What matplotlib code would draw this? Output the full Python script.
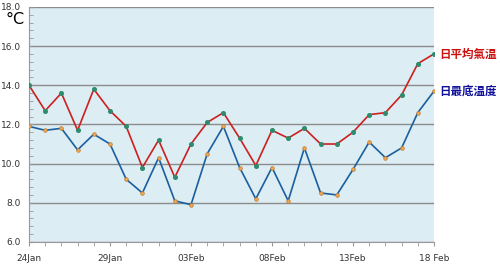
import matplotlib
matplotlib.use("Agg")
import matplotlib.pyplot as plt
from matplotlib.ticker import MultipleLocator, FixedLocator

# daily values, 24 Jan -> 18 Feb
days = list(range(26))
mean_temp = [14.0, 12.7, 13.6, 11.7, 13.8, 12.7, 11.9, 9.8, 11.2, 9.3, 11.0, 12.1, 12.6,
             11.3, 9.9, 11.7, 11.3, 11.8, 11.0, 11.0, 11.6, 12.5, 12.6, 13.5, 15.1, 15.6]
min_temp = [11.9, 11.7, 11.8, 10.7, 11.5, 11.0, 9.2, 8.5, 10.3, 8.1, 7.9, 10.5, 11.9,
            9.8, 8.2, 9.8, 8.1, 10.8, 8.5, 8.4, 9.7, 11.1, 10.3, 10.8, 12.6, 13.7]
tick_pos = [0, 5, 10, 15, 20, 25]
tick_labels = ["24Jan", "29Jan", "03Feb", "08Feb", "13Feb", "18 Feb"]
series_names = ["日平均氣温", "日最底温度"]

fig = plt.figure(figsize=(5, 2.65), dpi=100)
ax = fig.add_axes([0.058, 0.087, 0.81, 0.887])
ax.set_facecolor("#dcedf3")

ax.plot(days, mean_temp, color="#cc2020", lw=1.2, marker="o", ms=2.6,
        mfc="#2e8b6e", mec="#2e8b6e", zorder=3)
ax.plot(days, min_temp, color="#1a5f9e", lw=1.2, marker="o", ms=2.6,
        mfc="#f0a850", mec="#c07830", mew=0.5, zorder=3)

ax.set_xlim(0, 25)
ax.set_ylim(6, 18)
ax.yaxis.set_major_locator(MultipleLocator(2))
ax.yaxis.set_minor_locator(MultipleLocator(0.4))
ax.yaxis.set_major_formatter(lambda v, p: "%.1f" % v)
ax.xaxis.set_major_locator(FixedLocator(tick_pos))
ax.xaxis.set_minor_locator(MultipleLocator(1))
ax.set_xticklabels(tick_labels)

ax.grid(axis="y", which="major", color="#8c8c8c", lw=1)
ax.tick_params(axis="y", which="both", direction="in", color="#999999", length=3,
               labelsize=6.5, labelcolor="#333333", pad=6)
ax.tick_params(axis="x", which="both", direction="out", color="#999999", length=3,
               labelsize=6.5, labelcolor="#333333", pad=6)
for s in ["top", "right"]:
    ax.spines[s].set_visible(False)
for s in ["left", "bottom"]:
    ax.spines[s].set_color("#999999")

ax.annotate(series_names[0], (days[-1], mean_temp[-1]), xytext=(4, 0),
            textcoords="offset points", va="center", ha="left", color="#cc1010",
            fontsize=8.3, fontweight="bold", family=["Noto Sans CJK TC", "DejaVu Sans"],
            annotation_clip=False)
ax.annotate(series_names[1], (days[-1], min_temp[-1]), xytext=(4, 0),
            textcoords="offset points", va="center", ha="left", color="#10109a",
            fontsize=8.3, fontweight="bold", family=["Noto Sans CJK TC", "DejaVu Sans"],
            annotation_clip=False)

fig.text(0.03, 0.925, "°C", fontsize=11.5, ha="center", va="center")

fig.savefig("out.png", dpi=100)
